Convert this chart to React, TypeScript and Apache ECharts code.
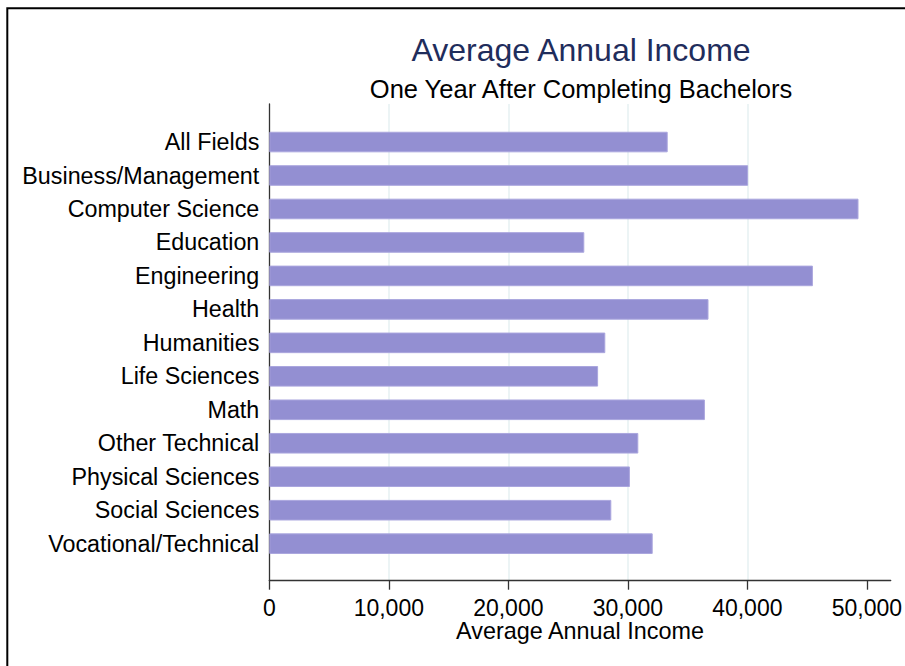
import React, { useEffect, useRef } from "react";
import * as echarts from "echarts";

const categories: string[] = [
  "All Fields",
  "Business/Management",
  "Computer Science",
  "Education",
  "Engineering",
  "Health",
  "Humanities",
  "Life Sciences",
  "Math",
  "Other Technical",
  "Physical Sciences",
  "Social Sciences",
  "Vocational/Technical",
];

const incomes: number[] = [
  33200, 39900, 49100, 26250, 45300, 36600, 28000, 27400, 36300, 30750, 30050,
  28500, 31950,
];

const xTicks: number[] = [0, 10000, 20000, 30000, 40000, 50000];
const xMin = 0;
const xMax = 52000;

const FONT = "'Liberation Sans', Arial, Helvetica, sans-serif";

export default function App() {
  const ref = useRef<HTMLDivElement>(null);

  useEffect(() => {
    document.body.style.margin = "0";
    if (!ref.current) return;
    const chart = echarts.init(ref.current, null, { renderer: "svg" });
    const fmt = (v: number) => v.toLocaleString("en-US");
    const plotLeft = 269.3;
    const plotRight = 905 - 893.3;
    chart.setOption({
      animation: false,
      backgroundColor: "#ffffff",
      textStyle: { fontFamily: FONT },
      title: [
        {
          text: "Average Annual Income",
          left: 581,
          top: 34.2,
          padding: 0,
          textAlign: "center",
          textStyle: {
            fontFamily: FONT,
            fontSize: 32,
            fontWeight: "normal",
            color: "#1f2d5c",
          },
        },
        {
          text: "One Year After Completing Bachelors",
          left: 581,
          top: 75.9,
          padding: 0,
          textAlign: "center",
          textStyle: {
            fontFamily: FONT,
            fontSize: 25.5,
            fontWeight: "normal",
            color: "#000000",
          },
        },
      ],
      graphic: [
        {
          type: "rect",
          shape: { x: 7.3, y: 8.3, width: 940, height: 700 },
          style: { fill: "none", stroke: "#000000", lineWidth: 2 },
          silent: true,
        },
      ],
      grid: [
        {
          left: plotLeft,
          right: plotRight,
          top: 125.3,
          bottom: 666 - 560.4,
          containLabel: false,
        },
        {
          left: plotLeft,
          right: plotRight,
          top: 104,
          bottom: 666 - 580.7,
          containLabel: false,
        },
      ],
      xAxis: [
        {
          gridIndex: 0,
          type: "value",
          min: xMin,
          max: xMax,
          show: false,
        },
        {
          gridIndex: 1,
          type: "value",
          min: xMin,
          max: xMax,
          interval: 10000,
          name: "Average Annual Income",
          nameLocation: "middle",
          nameGap: 39,
          nameMoveOverlap: false,
          nameTextStyle: { fontFamily: FONT, fontSize: 23.4, color: "#000" },
          axisLine: { show: true, lineStyle: { color: "#333333", width: 1.3 } },
          axisTick: {
            show: true,
            length: 9,
            customValues: xTicks,
            lineStyle: { color: "#333333", width: 1.3 },
          },
          axisLabel: {
            customValues: xTicks,
            margin: 15.5,
            fontFamily: FONT,
            fontSize: 23,
            color: "#000",
            formatter: (v: number) => fmt(v),
          },
          splitLine: {
            show: true,
            showMinLine: false,
            showMaxLine: false,
            lineStyle: { color: "#e6f0f2", width: 1.5 },
          },
        },
      ],
      yAxis: [
        {
          gridIndex: 0,
          type: "category",
          data: categories,
          inverse: true,
          axisLine: { show: false },
          axisTick: { show: false },
          splitLine: { show: false },
          axisLabel: {
            margin: 10,
            fontFamily: FONT,
            fontSize: 23.3,
            color: "#000",
            interval: 0,
          },
        },
        {
          gridIndex: 1,
          type: "value",
          min: 0,
          max: 1,
          axisLine: { show: true, lineStyle: { color: "#333333", width: 1.3 } },
          axisTick: { show: false },
          axisLabel: { show: false },
          splitLine: { show: false },
        },
      ],
      series: [
        {
          type: "bar",
          xAxisIndex: 0,
          yAxisIndex: 0,
          data: incomes,
          barWidth: 20.6,
          itemStyle: {
            color: "#938fd2",
            borderColor: "#aaa6de",
            borderWidth: 1,
          },
          z: 3,
        },
      ],
    });
    return () => chart.dispose();
  }, []);

  return <div ref={ref} style={{ width: 905, height: 666 }} />;
}
